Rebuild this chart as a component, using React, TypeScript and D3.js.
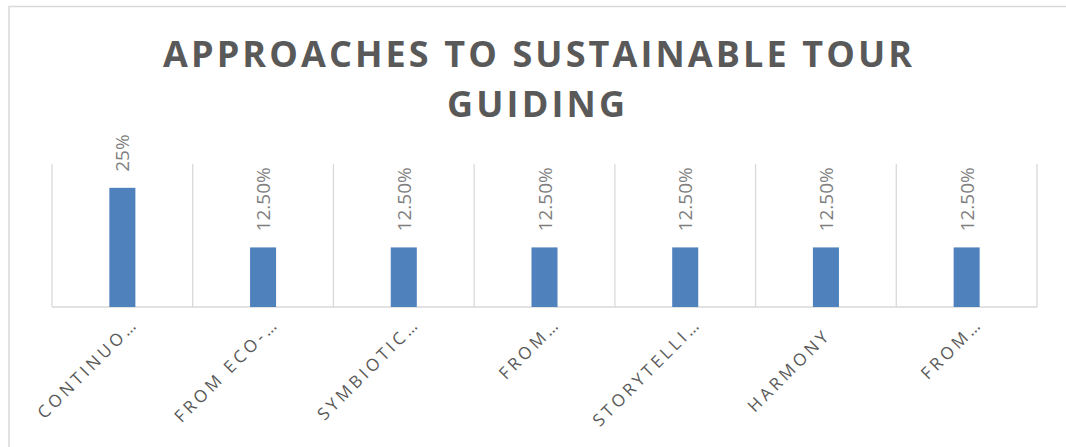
import React from "react";
import * as d3 from "d3";

const categories = ["CONTINUO…", "FROM ECO-…", "SYMBIOTIC…", "FROM…", "STORYTELLI…", "HARMONY", "FROM…"];
const values = [0.25, 0.125, 0.125, 0.125, 0.125, 0.125, 0.125];
const valueLabels = ["25%", "12.50%", "12.50%", "12.50%", "12.50%", "12.50%", "12.50%"];
const titleLines = ["APPROACHES TO SUSTAINABLE TOUR", "GUIDING"];

const W = 1066;
const H = 447;
const plotLeft = 52;
const plotRight = 1037;
const plotTop = 164;
const plotBottom = 307;

export default function App() {
  const x = d3
    .scaleBand<number>()
    .domain(d3.range(categories.length))
    .range([plotLeft, plotRight])
    .padding(0);
  const y = d3.scaleLinear().domain([0, 0.3]).range([plotBottom, plotTop]);
  const step = x.step();
  const barW = step * 0.185;
  const grid = d3.range(categories.length + 1).map((i) => plotLeft + i * step);

  return (
    <svg
      width={W}
      height={H}
      style={{ position: "absolute", left: 0, top: 0, background: "#fff" }}
      fontFamily="'Open Sans', sans-serif"
    >
      <rect x={0} y={0} width={W} height={H} fill="#fff" />
      {/* chart frame */}
      <line x1={9} x2={W} y1={6.5} y2={6.5} stroke="#D9D9D9" strokeWidth={1.5} />
      <line x1={9} x2={9} y1={6} y2={H} stroke="#D9D9D9" strokeWidth={1.5} />

      {/* title */}
      <text
        x={537.5}
        y={67}
        textAnchor="middle"
        fontSize={36}
        fontWeight={700}
        fill="#595959"
        textLength={749}
        lengthAdjust="spacing"
      >
        {titleLines[0]}
      </text>
      <text
        x={536}
        y={117}
        textAnchor="middle"
        fontSize={36}
        fontWeight={700}
        fill="#595959"
        textLength={178}
        lengthAdjust="spacing"
      >
        {titleLines[1]}
      </text>

      {/* vertical gridlines */}
      {grid.map((gx, i) => (
        <line key={"g" + i} x1={gx} x2={gx} y1={plotTop} y2={plotBottom} stroke="#D9D9D9" strokeWidth={1.3} />
      ))}
      {/* baseline */}
      <line x1={plotLeft} x2={plotRight} y1={plotBottom} y2={plotBottom} stroke="#D9D9D9" strokeWidth={1.5} />

      {/* bars */}
      {values.map((v, i) => {
        const cx = (x(i) as number) + step / 2;
        return (
          <rect
            key={"b" + i}
            x={cx - barW / 2}
            y={y(v)}
            width={barW}
            height={plotBottom - y(v)}
            fill="#4F81BD"
          />
        );
      })}

      {/* data labels */}
      {values.map((v, i) => {
        const cx = (x(i) as number) + step / 2;
        const ty = y(v) - 16;
        return (
          <text
            key={"l" + i}
            transform={`translate(${cx},${ty}) rotate(-90)`}
            textAnchor="start"
            dominantBaseline="central"
            fontSize={19}
            fill="#7F7F7F"
          >
            {valueLabels[i]}
          </text>
        );
      })}

      {/* category labels */}
      {categories.map((c, i) => {
        const cx = (x(i) as number) + step / 2;
        const truncated = c.endsWith("…");
        const shift = truncated ? 0 : 11;
        return (
          <text
            key={"c" + i}
            transform={`translate(${cx + 17 - shift},${plotBottom + 18 + shift}) rotate(-45)`}
            textAnchor="end"
            fontSize={17}
            letterSpacing={3.5}
            fill="#595959"
          >
            {c}
          </text>
        );
      })}
    </svg>
  );
}
